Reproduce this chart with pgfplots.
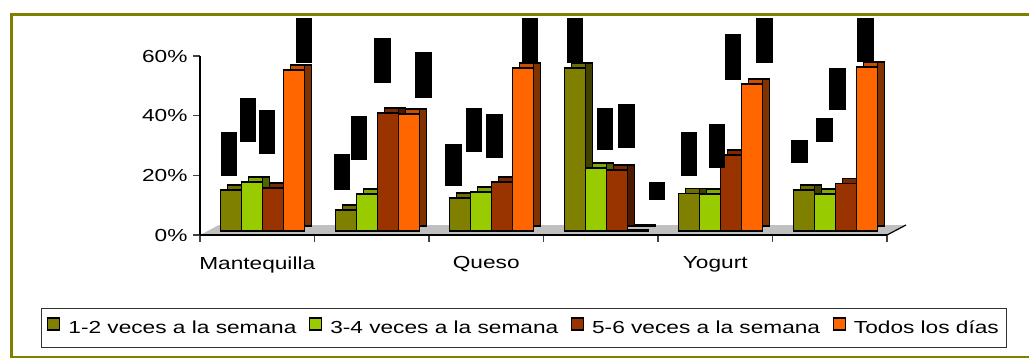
\documentclass[border=0pt]{standalone}
\usepackage{fontspec}
\setmainfont{Liberation Sans}[FakeStretch=1.3]
\usepackage{pgfplots}
\usepackage{pgfplotstable}
\pgfplotsset{compat=1.18}

\definecolor{oliveF}{HTML}{808000}
\definecolor{oliveS}{HTML}{404000}
\definecolor{oliveT}{HTML}{6E6E00}
\definecolor{limeF}{HTML}{99CC00}
\definecolor{limeS}{HTML}{4D6600}
\definecolor{limeT}{HTML}{80AA00}
\definecolor{rustF}{HTML}{993300}
\definecolor{rustS}{HTML}{4D1A00}
\definecolor{rustT}{HTML}{7A2900}
\definecolor{orangeF}{HTML}{FF6600}
\definecolor{orangeS}{HTML}{803300}
\definecolor{orangeT}{HTML}{C85000}
\definecolor{frameolive}{HTML}{808000}
\definecolor{floorgray}{HTML}{C0C0C0}

% Porcentaje de consumo por producto y frecuencia
\pgfplotstableread{
x  uno   tres  cinco  todos
0  13.7  16.4  14.4   54.0
1   7.0  12.4  39.6   39.2
2  11.1  13.1  16.4   54.6
3  54.6  21.1  20.4    0.3
4  12.6  12.4  25.5   49.3
5  13.7  12.4  16.0   55.0
}\consumo

% Cajas de etiqueta de datos (centro y alto)
\pgfplotstableread{
x       y      h
-0.245  27.15  44
-0.079  38.55  44
 0.087  34.53  44
 0.410  65.20  45
 0.742  21.12  36
 0.890  32.51  44
 1.092  58.49  45
 1.450  53.63  46
 1.712  23.46  42
 1.891  35.20  44
 2.070  33.18  44
 2.380  65.20  45
 2.777  65.20  45
 3.039  35.53  42
 3.227  36.54  44
 3.493  14.75  18
 3.769  27.15  44
 4.017  29.83  44
 4.157  59.66  46
 4.432  65.20  45
 4.734  27.99  23
 4.952  35.20  24
 5.066  48.94  42
 5.314  65.36  44
}\etiquetas

\pgfplotsset{
  front/.style n args={2}{ybar, bar width=21bp, bar shift=#1, yshift=4bp,
    fill=#2, draw=black, line width=1.4bp},
  topface/.style n args={2}{ybar, bar width=21bp, bar shift=#1, yshift=9bp,
    fill=#2, draw=black, line width=1.4bp, forget plot},
  sideface/.style n args={2}{ybar, bar width=7bp, bar shift=#1, yshift=9bp,
    fill=#2, draw=black, line width=1.4bp, forget plot},
  sq/.style={legend image code/.code={\draw[fill=#1, draw=black, line width=1.2bp]
      (0bp,-6bp) rectangle (12bp,6bp); \path (18bp,0bp);}},
}

\begin{document}
\fontsize{17.5}{21}\selectfont
\begin{tikzpicture}
\useasboundingbox (0,0) rectangle (1029bp,-358bp);
\draw[frameolive, line width=3bp] (11.5bp,-14.5bp) rectangle (1080bp,-357.5bp);
\begin{axis}[
  at={(200bp,-235bp)}, anchor=south west,
  scale only axis, width=687bp, height=179bp,
  xmin=-0.5, xmax=5.5, ymin=0, ymax=60,
  clip=false, axis on top,
  axis x line=bottom, axis y line=left,
  axis line style={black, line width=1.2bp, -},
  tick align=outside, major tick length=6.5bp, minor tick length=6.5bp,
  tick style={black!75, line width=1.2bp},
  xtick={0,2,4}, xticklabels={Mantequilla,Queso,Yogurt},
  major x tick style={draw=none},
  minor xtick={-0.5,0.5,...,5.5},
  minor x tick style={black!75, line width=1.2bp},
  xticklabel style={yshift=-9bp},
  ytick={0,20,40,60}, yticklabels={0\%,20\%,40\%,60\%},
  legend columns=-1,
  legend style={at={(rel axis cs:0.4716,-0.5196)}, anchor=center,
    draw=black!80, line width=1bp, inner xsep=6bp, inner ysep=9bp,
    nodes={inner xsep=2bp, inner ysep=3bp},
    /tikz/every even column/.append style={column sep=10.5bp}},
]
% suelo del gráfico
\fill[floorgray] (axis cs:-0.5,0) -- (axis cs:5.5,0)
  -- ([shift={(19bp,10bp)}]axis cs:5.5,0) -- ([shift={(19bp,10bp)}]axis cs:-0.5,0) -- cycle;
\draw[black, line width=1.2bp] (axis cs:5.5,0) -- ([shift={(19bp,10bp)}]axis cs:5.5,0);

\addplot[topface={-19bp}{oliveT}] table[x=x, y=uno] {\consumo};
\addplot[sideface={-12bp}{oliveS}] table[x=x, y=uno] {\consumo};
\addplot[front={-26bp}{oliveF}, sq=oliveF] table[x=x, y=uno] {\consumo};
\addlegendentry{1-2 veces a la semana}

\addplot[topface={2bp}{limeT}] table[x=x, y=tres] {\consumo};
\addplot[sideface={9bp}{limeS}] table[x=x, y=tres] {\consumo};
\addplot[front={-5bp}{limeF}, sq=limeF] table[x=x, y=tres] {\consumo};
\addlegendentry{3-4 veces a la semana}

\addplot[topface={23bp}{rustT}] table[x=x, y=cinco] {\consumo};
\addplot[sideface={30bp}{rustS}] table[x=x, y=cinco] {\consumo};
\addplot[front={16bp}{rustF}, sq=rustF] table[x=x, y=cinco] {\consumo};
\addlegendentry{5-6 veces a la semana}

\addplot[topface={44bp}{orangeT}] table[x=x, y=todos] {\consumo};
\addplot[sideface={51bp}{orangeS}] table[x=x, y=todos] {\consumo};
\addplot[front={37bp}{orangeF}, sq=orangeF] table[x=x, y=todos] {\consumo};
\addlegendentry{Todos los días}

\addplot[only marks, mark=square*, mark size=0.5bp, black, forget plot,
  visualization depends on={\thisrow{h} \as \alto},
  nodes near coords={},
  every node near coord/.append style={fill=black, inner sep=0pt,
    minimum width=16.5bp, minimum height=\alto*1bp, anchor=center}]
  table[x=x, y=y] {\etiquetas};
\end{axis}
\end{tikzpicture}
\end{document}
